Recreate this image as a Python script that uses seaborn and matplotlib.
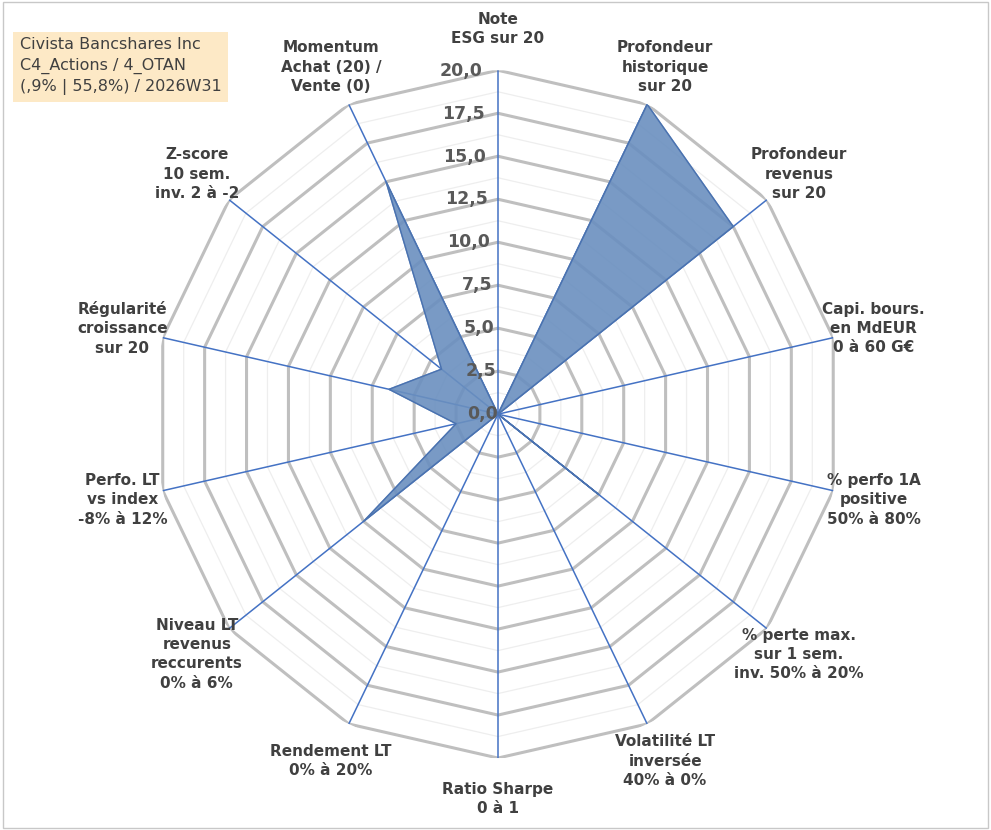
import numpy as np
import matplotlib
matplotlib.use("Agg")
import matplotlib.pyplot as plt
import seaborn as sns
from matplotlib.patches import Rectangle

sns.set_theme(style="white")
plt.rcParams['font.family'] = ['DejaVu Sans']

categories = ["Note\nESG sur 20", "Profondeur\nhistorique\nsur 20", "Profondeur\nrevenus\nsur 20",
              "Capi. bours.\nen MdEUR\n0 à 60 G€", "% perfo 1A\npositive\n50% à 80%",
              "% perte max.\nsur 1 sem.\ninv. 50% à 20%", "Volatilité LT\ninversée\n40% à 0%",
              "Ratio Sharpe\n0 à 1", "Rendement LT\n0% à 20%", "Niveau LT\nrevenus\nreccurents\n0% à 6%",
              "Perfo. LT\nvs index\n-8% à 12%", "Régularité\ncroissance\nsur 20",
              "Z-score\n10 sem.\ninv. 2 à -2", "Momentum\nAchat (20) /\nVente (0)"]
values = [0, 20, 17.5, 0, 0, 7.5, 0, 0, 0, 10, 2.5, 6.5, 4.2, 15]
ticks = [0, 2.5, 5, 7.5, 10, 12.5, 15, 17.5, 20]
title_text = "Civista Bancshares Inc\nC4_Actions / 4_OTAN\n(,9% | 55,8%) / 2026W31"

n = len(categories)
ang = np.arange(n) * 2 * np.pi / n
fig = plt.figure(figsize=(9.91, 8.3), dpi=100)
fig.patches.append(Rectangle((0.003, 0.003), 0.994, 0.994, transform=fig.transFigure,
                             fill=False, edgecolor="#c8c8c8", lw=1))
ax = fig.add_axes([0.5025 - 0.347, 0.501 - 0.4145, 0.694, 0.829], projection="polar")
ax.set_theta_zero_location("N")
ax.set_theta_direction(-1)
ax.set_ylim(0, 20)
ax.grid(False)
ax.spines["polar"].set_visible(False)
ax.set_xticks([]); ax.set_yticks([])
ax.patch.set_alpha(0)

closed = np.append(ang, ang[0])
for r in np.arange(1.25, 20, 2.5):
    ax.plot(closed, [r] * (n + 1), color="#eeeeee", lw=0.9, zorder=1)
for r in ticks[1:]:
    ax.plot(closed, [r] * (n + 1), color="#bfbfbf", lw=2.2, zorder=2)
for a in ang:
    ax.plot([a, a], [0, 20], color="#4472c4", lw=1.1, zorder=3)

v = values + values[:1]
ax.fill(closed, v, color="#6a8fbf", alpha=0.9, zorder=4)
ax.plot(closed, v, color="#4a72b0", lw=1, zorder=5)

for t in ticks:
    ax.text(-0.045, t, f"{t:.1f}".replace(".", ","), ha="right", va="center",
            fontsize=12.5, fontweight="bold", color="#595959", zorder=6)

for a, lab in zip(ang, categories):
    ax.text(a, 22.4, lab, ha="center", va="center", fontsize=11, fontweight="bold",
            color="#404040", linespacing=1.35)

fig.text(0.02, 0.955, title_text, ha="left", va="top", fontsize=11.5, color="#404040",
         linespacing=1.45,
         bbox=dict(boxstyle="square,pad=0.4", facecolor="#fde9c6", edgecolor="none"))
fig.savefig("out.png", dpi=100)
